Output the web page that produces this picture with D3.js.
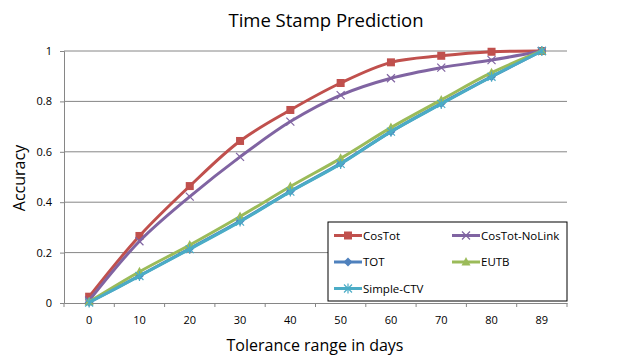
<!DOCTYPE html>
<html>
<head>
<meta charset="utf-8">
<script src="https://cdn.jsdelivr.net/npm/d3@7"></script>
<style>
  body { margin: 0; background: #fff; }
  text { font-family: "Open Sans", "Noto Sans", sans-serif; }
</style>
</head>
<body>
<div id="chart"></div>
<script>
// data
const days = ["0", "10", "20", "30", "40", "50", "60", "70", "80", "89"];
const costot       = [0.025, 0.266, 0.464, 0.643, 0.766, 0.873, 0.955, 0.981, 0.997, 1];
const costotNoLink = [0.01, 0.245, 0.422, 0.58, 0.72, 0.825, 0.892, 0.934, 0.964, 1];
const tot          = [0.003, 0.108, 0.216, 0.325, 0.443, 0.554, 0.68, 0.792, 0.898, 1];
const eutb         = [0.005, 0.124, 0.23, 0.343, 0.462, 0.574, 0.696, 0.806, 0.914, 1];
const simpleCtv    = [0.002, 0.107, 0.214, 0.323, 0.442, 0.552, 0.68, 0.79, 0.898, 1];
const yTicks = [0, 0.2, 0.4, 0.6, 0.8, 1];

const series = [
  { name: "CosTot",        values: costot,       color: "#C0504D", marker: "square" },
  { name: "CosTot-NoLink", values: costotNoLink, color: "#8064A2", marker: "x" },
  { name: "TOT",           values: tot,          color: "#4F81BD", marker: "diamond" },
  { name: "EUTB",          values: eutb,         color: "#9BBB59", marker: "triangle" },
  { name: "Simple-CTV",    values: simpleCtv,    color: "#4BACC6", marker: "star" }
];

const W = 620, H = 361;
const margin = { top: 51, right: 53, bottom: 58, left: 64 };
const width = W - margin.left - margin.right,
      height = H - margin.top - margin.bottom;

const svg = d3.select("#chart").append("svg")
    .attr("width", W).attr("height", H);

const g = svg.append("g")
    .attr("transform", "translate(" + margin.left + "," + margin.top + ")");

const x = d3.scaleBand().domain(days).range([0, width]);
const y = d3.scaleLinear().domain([0, 1]).range([height, 0]);
const cx = d => x(d) + x.bandwidth() / 2;

// gridlines
g.selectAll(".grid").data(yTicks.slice(1)).enter().append("line")
    .attr("x1", 0).attr("x2", width)
    .attr("y1", d => y(d)).attr("y2", d => y(d))
    .attr("stroke", "#868686").attr("stroke-width", 1);

// axes
const yAxis = d3.axisLeft(y).tickValues(yTicks).tickSize(4).tickPadding(8)
    .tickFormat(d => d3.format("")(+d.toFixed(1)));
const gy = g.append("g").call(yAxis);
gy.select(".domain").attr("stroke", "#868686");
gy.selectAll(".tick line").attr("stroke", "#868686");
gy.selectAll("text").style("font-size", "11px").attr("fill", "#000");

const xAxis = d3.axisBottom(x).tickSize(0).tickPadding(13);
const gx = g.append("g").attr("transform", "translate(0," + height + ")").call(xAxis);
gx.select(".domain").attr("stroke", "#868686");
gx.selectAll("text").style("font-size", "11px").attr("fill", "#000");
// ticks between categories
gx.selectAll(".sep").data(d3.range(days.length + 1)).enter().append("line")
    .attr("x1", i => i * x.step()).attr("x2", i => i * x.step())
    .attr("y1", 0).attr("y2", 4)
    .attr("stroke", "#868686");

// markers
function drawMarker(sel, type, color, px, py) {
  const m = sel.append("g").attr("transform", "translate(" + px + "," + py + ")");
  if (type === "square") {
    m.append("rect").attr("x", -4).attr("y", -4).attr("width", 8).attr("height", 8).attr("fill", color);
  } else if (type === "x") {
    m.append("path").attr("d", "M-4,-4L4,4M-4,4L4,-4").attr("stroke", color).attr("stroke-width", 1.2);
  } else if (type === "diamond") {
    m.append("path").attr("d", "M0,-4.5L4.5,0L0,4.5L-4.5,0Z").attr("fill", color);
  } else if (type === "triangle") {
    m.append("path").attr("d", "M0,-5L4.5,3.5L-4.5,3.5Z").attr("fill", color);
  } else if (type === "star") {
    m.append("path").attr("d", "M-4,-4L4,4M-4,4L4,-4M0,-5L0,5").attr("stroke", color).attr("stroke-width", 1.2);
  }
}

const line = d3.line()
    .x((v, i) => cx(days[i]))
    .y(v => y(v))
    .curve(d3.curveCatmullRom.alpha(0.5));

series.forEach(s => {
  g.append("path").datum(s.values)
      .attr("d", line)
      .attr("fill", "none")
      .attr("stroke", s.color)
      .attr("stroke-width", 3)
      .attr("stroke-linejoin", "round");
  s.values.forEach((v, i) => drawMarker(g, s.marker, s.color, cx(days[i]), y(v)));
});

// legend
const lg = svg.append("g").attr("transform", "translate(328,222)");
lg.append("rect").attr("width", 239).attr("height", 79)
    .attr("fill", "#fff").attr("stroke", "#000").attr("stroke-width", 1);
series.forEach((s, i) => {
  const col = i % 2, row = Math.floor(i / 2);
  const lx = 6 + col * 118, ly = 13.5 + row * 26.5;
  lg.append("line").attr("x1", lx).attr("x2", lx + 28)
      .attr("y1", ly).attr("y2", ly)
      .attr("stroke", s.color).attr("stroke-width", 3);
  drawMarker(lg, s.marker, s.color, lx + 14, ly);
  lg.append("text").attr("x", lx + 29).attr("y", ly).attr("dy", "0.35em")
      .style("font-size", "11.5px").text(s.name);
});

// titles
svg.append("text").attr("x", 326).attr("y", 27).attr("text-anchor", "middle")
    .style("font-size", "18.5px").text("Time Stamp Prediction");
svg.append("text").attr("x", 315).attr("y", 351).attr("text-anchor", "middle")
    .style("font-size", "16px").text("Tolerance range in days");
svg.append("text").attr("transform", "translate(25,178) rotate(-90)")
    .attr("text-anchor", "middle")
    .style("font-size", "16px").text("Accuracy");
</script>
</body>
</html>
